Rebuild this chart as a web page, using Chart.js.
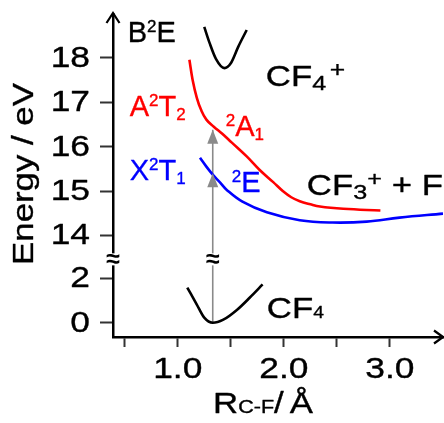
<!DOCTYPE html>
<html><head><meta charset="utf-8">
<script src="https://cdn.jsdelivr.net/npm/chart.js@4.4.0/dist/chart.umd.min.js"></script>
<style>html,body{margin:0;padding:0;background:#fff}canvas{display:block}</style>
</head><body>
<canvas id="c" width="444" height="423"></canvas>
<script>
// ---- axis ranges & ticks ----
const xRange = [0.39, 3.5];
const yHighRange = [13.46, 18.99];
const yLowRange = [-0.64, 2.86];
const xTickValues = [0.5, 1.0, 1.5, 2.0, 2.5, 3.0];
const xTickLabels = ['', '1.0', '', '2.0', '', '3.0'];
const yHighTicks = [14, 15, 16, 17, 18];
const yLowTicks = [0, 2];

// ---- potential curves (R in Å, E in eV) ----
const a2t2R = [1.11, 1.14, 1.18, 1.22, 1.27, 1.34, 1.42, 1.51, 1.65, 1.77, 1.90, 1.99, 2.07, 2.15, 2.25, 2.34, 2.56, 2.91];
const a2t2E = [17.96, 17.51, 17.10, 16.83, 16.61, 16.45, 16.29, 16.09, 15.78, 15.48, 15.20, 15.00, 14.86, 14.77, 14.70, 14.65, 14.60, 14.56];
const x2t1R = [1.21, 1.27, 1.33, 1.40, 1.46, 1.61, 1.84, 2.15, 2.46, 2.78, 3.09, 3.50];
const x2t1E = [15.75, 15.55, 15.37, 15.19, 15.03, 14.76, 14.52, 14.34, 14.29, 14.31, 14.40, 14.49];
const b2eR = [1.25, 1.30, 1.36, 1.44, 1.50, 1.57, 1.65];
const b2eE = [18.70, 18.34, 17.98, 17.77, 17.88, 18.25, 18.63];
const cf4R = [1.09, 1.18, 1.25, 1.33, 1.43, 1.56, 1.68, 1.80];
const cf4E = [1.59, 0.82, 0.23, 0.00, 0.14, 0.59, 1.14, 1.73];

// ---- vertical excitation arrow ----
const excitationR = 1.33;
const excitationStart = 0;
const excitationTips = [15.40, 16.38];

const FAM = "'Liberation Sans', Arial, Helvetica, sans-serif";
const RED = '#ff0000', BLUE = '#0000ff', GRAY = '#8a8a8a';

// annotations (anchor in data coords: left / baseline)
const annotations = [
  {axis:'yHigh', r:0.528, e:18.36, color:'#000', sx:1.0, segs:[{t:'B'},{t:'2',s:17,dy:-10},{t:'E'}]},
  {axis:'yHigh', r:0.547, e:16.70, color:RED, sx:1.0, segs:[{t:'A'},{t:'2',s:17,dy:-10},{t:'T'},{t:'2',s:17,dy:4}]},
  {axis:'yHigh', r:0.547, e:15.24, color:BLUE, sx:1.0, segs:[{t:'X'},{t:'2',s:17,dy:-10},{t:'T'},{t:'1',s:17,dy:4}]},
  {axis:'yHigh', r:1.453, e:16.25, color:RED, sx:1.0, segs:[{t:'2',s:17,dy:-10},{t:'A'},{t:'1',s:17,dy:4}]},
  {axis:'yHigh', r:1.509, e:14.97, color:BLUE, sx:1.0, segs:[{t:'2',s:17,dy:-10},{t:'E'}]},
  {axis:'yHigh', r:1.830, e:17.37, color:'#000', sx:1.2, segs:[{t:'CF'},{t:'4',s:21,dy:4},{t:'+',s:22,dy:-9,gap:3}]},
  {axis:'yHigh', r:2.217, e:14.92, color:'#000', sx:1.2, segs:[{t:'CF'},{t:'3',s:21,dy:4},{t:'+',s:21,dy:-9},{t:' + F'}]},
  {axis:'yLow', r:1.840, e:0.23, color:'#000', sx:1.2, segs:[{t:'CF'},{t:'4',s:16,dy:0}]}
];

function rich(ctx, x, y, segs, o) {
  o = o || {};
  const sx = o.sx || 1, base = o.size || 29;
  let w = 0;
  segs.forEach(s => {
    ctx.font = (s.s || base) + 'px ' + FAM;
    s._w = ctx.measureText(s.t).width;
    w += s._w + (s.gap || 0);
  });
  ctx.save();
  ctx.fillStyle = o.color || '#000';
  ctx.strokeStyle = o.color || '#000';
  ctx.lineWidth = 0.35;
  ctx.lineJoin = 'round';
  ctx.textBaseline = o.baseline || 'alphabetic';
  ctx.textAlign = 'left';
  ctx.translate(x, y);
  if (o.rot) ctx.rotate(o.rot);
  ctx.scale(sx, 1);
  let cx = o.align === 'center' ? -w / 2 : (o.align === 'right' ? -w : 0);
  segs.forEach(s => {
    cx += (s.gap || 0);
    ctx.font = (s.s || base) + 'px ' + FAM;
    ctx.fillText(s.t, cx, s.dy || 0);
    ctx.strokeText(s.t, cx, s.dy || 0);
    cx += s._w;
  });
  ctx.restore();
}

const toPts = (xs, ys) => xs.map((x, i) => ({x, y: ys[i]}));
const curve = (xs, ys, axis, color, mono) => ({
  data: toPts(xs, ys), yAxisID: axis, borderColor: color, borderWidth: 2.6,
  pointRadius: 0, showLine: true, fill: false,
  cubicInterpolationMode: mono ? 'monotone' : 'default', tension: 0.4
});

const decor = {
  id: 'decor',
  afterDraw(chart) {
    const ctx = chart.ctx, ca = chart.chartArea;
    const sx = chart.scales.x, yh = chart.scales.yHigh, yl = chart.scales.yLow;
    const breakY = yh.bottom;
    // arrowheads on excitation line
    const ax = sx.getPixelForValue(excitationR);
    ctx.save();
    ctx.fillStyle = GRAY;
    excitationTips.forEach(v => {
      const py = yh.getPixelForValue(v);
      ctx.beginPath();
      ctx.moveTo(ax, py); ctx.lineTo(ax - 5.5, py + 14); ctx.lineTo(ax + 5.5, py + 14); ctx.closePath();
      ctx.fill();
    });
    ctx.restore();
    // axis arrows
    ctx.save();
    ctx.strokeStyle = '#000'; ctx.lineWidth = 2.2; ctx.lineJoin = 'miter';
    ctx.beginPath();
    ctx.moveTo(ca.left - 6.5, ca.top + 9); ctx.lineTo(ca.left, ca.top - 1); ctx.lineTo(ca.left + 6.5, ca.top + 9);
    ctx.stroke();
    ctx.beginPath();
    ctx.moveTo(ca.right - 9, ca.bottom - 6.5); ctx.lineTo(ca.right, ca.bottom); ctx.lineTo(ca.right - 9, ca.bottom + 6.5);
    ctx.stroke();
    ctx.restore();
    // break marks
    [ca.left, ax].forEach(bx => {
      ctx.save();
      ctx.fillStyle = '#fff';
      ctx.fillRect(bx - 3, breakY - 6, 6, 12);
      ctx.fillStyle = '#000';
      ctx.font = 'bold 25px ' + FAM;
      ctx.textAlign = 'center'; ctx.textBaseline = 'middle';
      ctx.fillText('\u2248', bx, breakY + 1);
      ctx.restore();
    });
    // y tick labels
    yHighTicks.forEach(v => rich(ctx, 90, yh.getPixelForValue(v) + 1, [{t: String(v)}], {align:'right', sx:1.22, baseline:'middle'}));
    yLowTicks.forEach(v => rich(ctx, 90, yl.getPixelForValue(v) + 1, [{t: String(v)}], {align:'right', sx:1.22, baseline:'middle'}));
    // x tick labels
    xTickValues.forEach((v, i) => {
      if (xTickLabels[i]) rich(ctx, sx.getPixelForValue(v), ca.bottom + 41, [{t: xTickLabels[i]}], {align:'center', sx:1.22});
    });
    // axis titles
    rich(ctx, 33, 174, [{t:'Energy / eV'}], {align:'center', sx:1.2, rot:-Math.PI / 2});
    rich(ctx, 213, 413, [{t:'R'}, {t:'C-F', s:18}, {t:'/'}, {t:' ', s:18}, {t:'\u00C5'}], {sx:1.2});
    // annotations
    annotations.forEach(a => {
      const sc = chart.scales[a.axis];
      rich(ctx, sx.getPixelForValue(a.r), sc.getPixelForValue(a.e), a.segs, {sx:a.sx, color:a.color});
    });
  }
};

const gridOpts = (len) => ({display:true, drawOnChartArea:false, drawTicks:true, tickLength:len, tickWidth:2, tickColor:'#333'});

new Chart(document.getElementById('c'), {
  type: 'scatter',
  data: {
    datasets: [
      curve(a2t2R, a2t2E, 'yHigh', RED, false),
      curve(x2t1R, x2t1E, 'yHigh', BLUE, false),
      curve(b2eR, b2eE, 'yHigh', '#000', true),
      curve(cf4R, cf4E, 'yLow', '#000', true),
      {data:[{x:excitationR, y:excitationStart}, {x:excitationR, y:yLowRange[1]}], yAxisID:'yLow', borderColor:GRAY, borderWidth:1.6, pointRadius:0, showLine:true, order:5},
      {data:[{x:excitationR, y:yHighRange[0]}, {x:excitationR, y:excitationTips[1]}], yAxisID:'yHigh', borderColor:GRAY, borderWidth:1.6, pointRadius:0, showLine:true, order:5}
    ]
  },
  options: {
    responsive: false, animation: false, devicePixelRatio: 1,
    layout: {padding: {left: 100, right: 1, top: 14, bottom: 76}},
    plugins: {legend:{display:false}, tooltip:{enabled:false}},
    scales: {
      x: {type:'linear', position:'bottom', min:xRange[0], max:xRange[1],
          afterBuildTicks: s => { s.ticks = xTickValues.map(v => ({value:v})); },
          ticks:{display:false}, grid:gridOpts(10), border:{display:true, color:'#000', width:2.5}},
      yLow: {type:'linear', position:'left', stack:'energy', stackWeight:(yLowRange[1]-yLowRange[0]),
          min:yLowRange[0], max:yLowRange[1],
          afterBuildTicks: s => { s.ticks = yLowTicks.map(v => ({value:v})); },
          ticks:{display:false}, grid:gridOpts(13), border:{display:true, color:'#000', width:2.5}},
      yHigh: {type:'linear', position:'left', stack:'energy', stackWeight:(yHighRange[1]-yHighRange[0])*2,
          min:yHighRange[0], max:yHighRange[1],
          afterBuildTicks: s => { s.ticks = yHighTicks.map(v => ({value:v})); },
          ticks:{display:false}, grid:gridOpts(13), border:{display:true, color:'#000', width:2.5}}
    }
  },
  plugins: [decor]
});
</script>
</body></html>
